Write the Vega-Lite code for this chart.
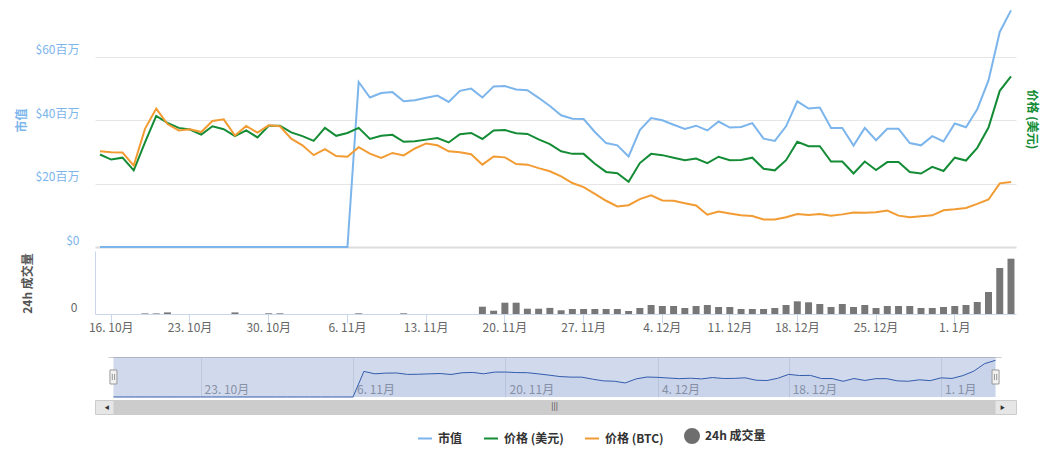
{
  "$schema": "https://vega.github.io/schema/vega-lite/v6.json",
  "padding": {"left": 15, "top": 5, "right": 5, "bottom": 5},
  "spacing": 0,
  "datasets": {
    "coin": [
      {"date": "2017-10-15", "cap": 0, "usd": 29.2, "btc": 30.2, "vol": 0},
      {"date": "2017-10-16", "cap": 0, "usd": 27.6, "btc": 29.9, "vol": 0},
      {"date": "2017-10-17", "cap": 0, "usd": 28.2, "btc": 29.8, "vol": 0},
      {"date": "2017-10-18", "cap": 0, "usd": 24.2, "btc": 25.7, "vol": 0},
      {"date": "2017-10-19", "cap": 0, "usd": 33.0, "btc": 37.3, "vol": 0.6},
      {"date": "2017-10-20", "cap": 0, "usd": 41.4, "btc": 43.7, "vol": 0.6},
      {"date": "2017-10-21", "cap": 0, "usd": 39.2, "btc": 38.8, "vol": 1.6},
      {"date": "2017-10-22", "cap": 0, "usd": 37.6, "btc": 36.8, "vol": 0},
      {"date": "2017-10-23", "cap": 0, "usd": 37.1, "btc": 37.2, "vol": 0},
      {"date": "2017-10-24", "cap": 0, "usd": 35.5, "btc": 36.3, "vol": 0},
      {"date": "2017-10-25", "cap": 0, "usd": 38.1, "btc": 39.8, "vol": 0},
      {"date": "2017-10-26", "cap": 0, "usd": 37.2, "btc": 40.3, "vol": 0},
      {"date": "2017-10-27", "cap": 0, "usd": 35.0, "btc": 35.2, "vol": 1.6},
      {"date": "2017-10-28", "cap": 0, "usd": 36.8, "btc": 38.2, "vol": 0},
      {"date": "2017-10-29", "cap": 0, "usd": 34.6, "btc": 36.1, "vol": 0},
      {"date": "2017-10-30", "cap": 0, "usd": 38.3, "btc": 38.4, "vol": 0.7},
      {"date": "2017-10-31", "cap": 0, "usd": 38.3, "btc": 38.1, "vol": 0.7},
      {"date": "2017-11-01", "cap": 0, "usd": 36.2, "btc": 34.2, "vol": 0},
      {"date": "2017-11-02", "cap": 0, "usd": 35.0, "btc": 32.1, "vol": 0},
      {"date": "2017-11-03", "cap": 0, "usd": 33.5, "btc": 29.0, "vol": 0},
      {"date": "2017-11-04", "cap": 0, "usd": 37.6, "btc": 30.9, "vol": 0},
      {"date": "2017-11-05", "cap": 0, "usd": 35.1, "btc": 28.7, "vol": 0},
      {"date": "2017-11-06", "cap": 0, "usd": 36.0, "btc": 28.5, "vol": 0},
      {"date": "2017-11-07", "cap": 52.1, "usd": 37.6, "btc": 31.5, "vol": 0.7},
      {"date": "2017-11-08", "cap": 47.2, "usd": 34.1, "btc": 29.5, "vol": 0},
      {"date": "2017-11-09", "cap": 48.6, "usd": 35.1, "btc": 28.1, "vol": 0},
      {"date": "2017-11-10", "cap": 48.9, "usd": 35.4, "btc": 29.7, "vol": 0},
      {"date": "2017-11-11", "cap": 46.0, "usd": 33.2, "btc": 28.9, "vol": 0.7},
      {"date": "2017-11-12", "cap": 46.3, "usd": 33.4, "btc": 31.1, "vol": 0},
      {"date": "2017-11-13", "cap": 47.1, "usd": 33.9, "btc": 32.7, "vol": 0},
      {"date": "2017-11-14", "cap": 47.8, "usd": 34.4, "btc": 32.1, "vol": 0},
      {"date": "2017-11-15", "cap": 45.8, "usd": 33.0, "btc": 30.2, "vol": 0},
      {"date": "2017-11-16", "cap": 49.3, "usd": 35.6, "btc": 29.9, "vol": 0},
      {"date": "2017-11-17", "cap": 50.0, "usd": 36.0, "btc": 29.3, "vol": 0},
      {"date": "2017-11-18", "cap": 47.2, "usd": 34.1, "btc": 26.0, "vol": 7.3},
      {"date": "2017-11-19", "cap": 50.7, "usd": 36.8, "btc": 28.6, "vol": 3.3},
      {"date": "2017-11-20", "cap": 50.8, "usd": 36.9, "btc": 28.3, "vol": 11.3},
      {"date": "2017-11-21", "cap": 49.7, "usd": 35.9, "btc": 26.2, "vol": 11.3},
      {"date": "2017-11-22", "cap": 49.5, "usd": 35.7, "btc": 26.0, "vol": 5.3},
      {"date": "2017-11-23", "cap": 47.1, "usd": 34.0, "btc": 24.9, "vol": 5.3},
      {"date": "2017-11-24", "cap": 44.5, "usd": 32.5, "btc": 23.9, "vol": 6.1},
      {"date": "2017-11-25", "cap": 41.6, "usd": 30.2, "btc": 22.3, "vol": 3.7},
      {"date": "2017-11-26", "cap": 40.5, "usd": 29.4, "btc": 20.2, "vol": 5},
      {"date": "2017-11-27", "cap": 40.4, "usd": 29.4, "btc": 18.9, "vol": 5},
      {"date": "2017-11-28", "cap": 36.3, "usd": 26.3, "btc": 16.8, "vol": 5},
      {"date": "2017-11-29", "cap": 32.8, "usd": 23.7, "btc": 14.6, "vol": 5},
      {"date": "2017-11-30", "cap": 32.1, "usd": 23.3, "btc": 12.8, "vol": 5},
      {"date": "2017-12-01", "cap": 28.6, "usd": 20.6, "btc": 13.2, "vol": 3},
      {"date": "2017-12-02", "cap": 36.9, "usd": 26.5, "btc": 15.1, "vol": 6},
      {"date": "2017-12-03", "cap": 40.7, "usd": 29.4, "btc": 16.3, "vol": 9},
      {"date": "2017-12-04", "cap": 40.0, "usd": 29.0, "btc": 14.7, "vol": 8},
      {"date": "2017-12-05", "cap": 38.6, "usd": 28.2, "btc": 14.6, "vol": 8},
      {"date": "2017-12-06", "cap": 37.3, "usd": 27.4, "btc": 13.8, "vol": 6},
      {"date": "2017-12-07", "cap": 38.3, "usd": 27.9, "btc": 13.1, "vol": 8},
      {"date": "2017-12-09", "cap": 36.8, "usd": 26.5, "btc": 10.2, "vol": 9},
      {"date": "2017-12-10", "cap": 39.6, "usd": 28.5, "btc": 11.2, "vol": 7},
      {"date": "2017-12-11", "cap": 37.7, "usd": 27.4, "btc": 10.6, "vol": 7},
      {"date": "2017-12-12", "cap": 37.9, "usd": 27.5, "btc": 10.0, "vol": 5},
      {"date": "2017-12-13", "cap": 39.1, "usd": 28.2, "btc": 9.8, "vol": 5},
      {"date": "2017-12-15", "cap": 34.2, "usd": 24.7, "btc": 8.7, "vol": 5},
      {"date": "2017-12-16", "cap": 33.5, "usd": 24.2, "btc": 8.7, "vol": 6},
      {"date": "2017-12-17", "cap": 38.1, "usd": 27.4, "btc": 9.4, "vol": 9},
      {"date": "2017-12-18", "cap": 46.0, "usd": 33.2, "btc": 10.4, "vol": 12.7},
      {"date": "2017-12-19", "cap": 43.7, "usd": 31.8, "btc": 10.1, "vol": 11.7},
      {"date": "2017-12-20", "cap": 44.0, "usd": 31.8, "btc": 10.4, "vol": 10},
      {"date": "2017-12-21", "cap": 37.6, "usd": 27.0, "btc": 9.9, "vol": 7},
      {"date": "2017-12-22", "cap": 37.6, "usd": 27.0, "btc": 10.3, "vol": 10},
      {"date": "2017-12-23", "cap": 32.0, "usd": 23.2, "btc": 10.9, "vol": 7},
      {"date": "2017-12-24", "cap": 37.6, "usd": 27.0, "btc": 10.8, "vol": 9},
      {"date": "2017-12-25", "cap": 33.7, "usd": 24.3, "btc": 11.0, "vol": 6},
      {"date": "2017-12-26", "cap": 37.3, "usd": 26.8, "btc": 11.5, "vol": 8},
      {"date": "2017-12-27", "cap": 37.3, "usd": 26.8, "btc": 9.9, "vol": 8},
      {"date": "2017-12-28", "cap": 32.8, "usd": 23.7, "btc": 9.4, "vol": 8},
      {"date": "2017-12-29", "cap": 32.1, "usd": 23.2, "btc": 9.7, "vol": 6},
      {"date": "2017-12-30", "cap": 35.0, "usd": 25.3, "btc": 10.0, "vol": 6},
      {"date": "2017-12-31", "cap": 33.3, "usd": 24.0, "btc": 11.6, "vol": 7},
      {"date": "2018-01-01", "cap": 39.0, "usd": 28.2, "btc": 11.9, "vol": 8},
      {"date": "2018-01-02", "cap": 37.8, "usd": 27.3, "btc": 12.3, "vol": 9},
      {"date": "2018-01-03", "cap": 43.5, "usd": 31.3, "btc": 13.6, "vol": 12},
      {"date": "2018-01-04", "cap": 52.6, "usd": 37.7, "btc": 15.0, "vol": 22},
      {"date": "2018-01-05", "cap": 67.9, "usd": 49.3, "btc": 20.1, "vol": 46},
      {"date": "2018-01-06", "cap": 74.7, "usd": 53.9, "btc": 20.5, "vol": 55.3}
    ],
    "legend": [
      {"series": "市值"},
      {"series": "价格 (美元)"},
      {"series": "价格 (BTC)"},
      {"series": "24h 成交量"}
    ]
  },
  "vconcat": [
    {
      "width": 921,
      "height": 242,
      "data": {"name": "coin"},
      "encoding": {
        "x": {
          "field": "date", "type": "ordinal",
          "scale": {"type": "point", "padding": 0.4446},
          "axis": null
        }
      },
      "layer": [
        {
          "mark": {"type": "line", "color": "#7cb5ec", "strokeWidth": 2},
          "encoding": {
            "y": {
              "field": "cap", "type": "quantitative",
              "scale": {"domain": [0, 76.4], "nice": false},
              "axis": {
                "orient": "left", "values": [0, 20, 40, 60],
                "labelExpr": "datum.value == 0 ? '$0' : '$' + datum.value + '百万'",
                "labelColor": "#7cb5ec", "labelFontSize": 12, "labelPadding": 16,
                "labelBaseline": "bottom", "labelOffset": 0,
                "ticks": false, "domain": false, "grid": true,
                "gridColor": {"condition": {"test": "datum.value == 0", "value": "#dcdcdc"}, "value": "#e6e6e6"},
                "gridWidth": {"condition": {"test": "datum.value == 0", "value": 2}, "value": 1},
                "title": "市值", "titleColor": "#7cb5ec", "titleFontSize": 12, "titleFontWeight": "bold",
                "titleAngle": 270, "titleX": -74, "titleY": 115, "titleAlign": "center", "titleBaseline": "middle"
              }
            }
          }
        },
        {
          "mark": {"type": "line", "color": "#138c35", "strokeWidth": 2},
          "encoding": {
            "y": {
              "field": "usd", "type": "quantitative",
              "scale": {"domain": [0, 76.4], "nice": false},
              "axis": {
                "orient": "right", "labels": false, "ticks": false, "domain": false, "grid": false,
                "title": "价格 (美元)", "titleColor": "#138c35", "titleFontSize": 12, "titleFontWeight": "bold",
                "titleAngle": 90, "titleX": 15, "titleY": 114, "titleAlign": "center", "titleBaseline": "middle"
              }
            }
          }
        },
        {
          "mark": {"type": "line", "color": "#f29b32", "strokeWidth": 2},
          "encoding": {
            "y": {"field": "btc", "type": "quantitative", "scale": {"domain": [0, 76.4], "nice": false}, "axis": null}
          }
        }
      ],
      "resolve": {"scale": {"y": "independent"}}
    },
    {
      "width": 921,
      "height": 63,
      "data": {"name": "coin"},
      "mark": {"type": "bar", "color": "#777777"},
      "encoding": {
        "x": {
          "field": "date", "type": "ordinal",
          "scale": {"type": "band", "paddingInner": 0.38, "paddingOuter": 0.135},
          "axis": {
            "values": ["2017-10-16", "2017-10-23", "2017-10-30", "2017-11-06", "2017-11-13", "2017-11-20", "2017-11-27", "2017-12-04", "2017-12-11", "2017-12-18", "2017-12-25", "2018-01-01"],
            "labelExpr": "utcFormat(toDate(datum.value), '%-d. %-m月')",
            "labelAngle": 0, "labelOverlap": false, "labelColor": "#666666", "labelFontSize": 12,
            "labelBaseline": "middle", "labelPadding": 4,
            "ticks": true, "tickSize": 9, "tickColor": "#ccd6eb", "domainColor": "#ccd6eb", "grid": false,
            "title": "日期", "titleOpacity": 0, "titleFontSize": 14, "titlePadding": 10
          }
        },
        "y": {
          "field": "vol", "type": "quantitative",
          "scale": {"domain": [0, 63], "nice": false},
          "axis": {
            "values": [0], "labelColor": "#666666", "labelFontSize": 12, "labelPadding": 18,
            "labelBaseline": "bottom", "labelOffset": 0,
            "ticks": false, "domain": true, "domainColor": "#ccd6eb", "grid": false,
            "title": "24h 成交量", "titleColor": "#555555", "titleFontSize": 12, "titleFontWeight": "bold",
            "titleAngle": 270, "titleX": -68, "titleY": 32, "titleAlign": "center", "titleBaseline": "middle"
          }
        }
      }
    },
    {
      "width": 921,
      "height": 40,
      "data": {"name": "coin"},
      "encoding": {
        "x": {
          "field": "date", "type": "ordinal",
          "scale": {"type": "point", "range": [13, 906]},
          "axis": {
            "orient": "top",
            "values": ["2017-10-23", "2017-11-06", "2017-11-20", "2017-12-04", "2017-12-18", "2018-01-01"],
            "labelExpr": "utcFormat(toDate(datum.value), '%-d. %-m月')",
            "labelAngle": 0, "labelOverlap": false, "labelAlign": "left", "labelBaseline": "middle",
            "labelOffset": 3.5, "labelPadding": -32, "labelColor": "#999999", "labelFontSize": 12,
            "ticks": false, "tickSize": 0, "domain": true, "domainColor": "#cccccc",
            "grid": true, "gridColor": "#e6e6e6", "title": null
          }
        }
      },
      "layer": [
        {
          "mark": {"type": "area", "color": "#6685c2", "opacity": 0.3},
          "encoding": {
            "y": {"datum": 81.4, "type": "quantitative", "scale": {"domain": [0, 81.4], "nice": false}, "axis": null},
            "y2": {"datum": 0}
          }
        },
        {
          "mark": {"type": "area", "color": "#335cad", "opacity": 0.05},
          "encoding": {"y": {"field": "cap", "type": "quantitative", "axis": null}}
        },
        {
          "mark": {"type": "line", "color": "#335cad", "strokeWidth": 1},
          "encoding": {"y": {"field": "cap", "type": "quantitative", "axis": null}}
        },
        {
          "transform": [{"filter": "datum.date == '2017-10-15' || datum.date == '2018-01-06'"}],
          "mark": {
            "type": "point", "shape": "M-0.5,-1H0.5V1H-0.5ZM-0.16,-0.44V0.44M0.16,-0.44V0.44",
            "size": 196, "filled": true, "fill": "#f2f2f2", "stroke": "#999999", "strokeWidth": 1, "opacity": 1
          },
          "encoding": {"y": {"datum": 40.7, "type": "quantitative", "axis": null}}
        }
      ]
    },
    {
      "width": 921,
      "height": 14,
      "view": {"fill": "#e6e6e6", "stroke": "#cccccc"},
      "data": {"name": "coin"},
      "encoding": {
        "x": {"field": "date", "type": "ordinal", "scale": {"type": "point", "range": [13, 906]}, "axis": null}
      },
      "layer": [
        {
          "mark": {"type": "area", "color": "#cccccc"},
          "encoding": {
            "y": {"datum": 1, "type": "quantitative", "scale": {"domain": [0, 1], "nice": false}, "axis": null},
            "y2": {"datum": 0}
          }
        },
        {
          "transform": [{"filter": "datum.date == '2017-10-15'"}],
          "mark": {"type": "text", "text": "◀", "fontSize": 5, "dx": -6.5, "color": "#333333"}
        },
        {
          "transform": [{"filter": "datum.date == '2018-01-06'"}],
          "mark": {"type": "text", "text": "▶", "fontSize": 5, "dx": 7, "color": "#333333"}
        },
        {
          "transform": [{"filter": "datum.date == '2017-11-24'"}],
          "mark": {"type": "text", "text": "|||", "fontSize": 8, "dx": 5.5, "color": "#333333"}
        },
        {
          "data": {"name": "legend"},
          "transform": [{"filter": "false"}],
          "mark": {"type": "point", "filled": false, "opacity": 1},
          "encoding": {
            "stroke": {
              "field": "series", "type": "nominal",
              "scale": {"domain": ["市值", "价格 (美元)", "价格 (BTC)", "24h 成交量"], "range": ["#7cb5ec", "#138c35", "#f29b32", "#6e6e6e"]},
              "legend": {"title": null, "orient": "none", "legendX": 322, "legendY": 28, "direction": "horizontal", "padding": 0, "labelFontSize": 12, "labelFontWeight": "bold", "labelColor": "#333333", "symbolStrokeWidth": 2, "symbolOpacity": 1, "labelOffset": 5, "columnPadding": 17}
            },
            "fill": {
              "field": "series", "type": "nominal",
              "scale": {"domain": ["市值", "价格 (美元)", "价格 (BTC)", "24h 成交量"], "range": ["#7cb5ec", "#138c35", "#f29b32", "#6e6e6e"]},
              "legend": {"title": null, "orient": "none", "legendX": 322, "legendY": 28, "direction": "horizontal", "padding": 0, "labelFontSize": 12, "labelFontWeight": "bold", "labelColor": "#333333", "symbolStrokeWidth": 2, "symbolOpacity": 1, "labelOffset": 5, "columnPadding": 17}
            },
            "shape": {
              "field": "series", "type": "nominal",
              "scale": {"domain": ["市值", "价格 (美元)", "价格 (BTC)", "24h 成交量"], "range": ["stroke", "stroke", "stroke", "circle"]},
              "legend": {"title": null, "orient": "none", "legendX": 322, "legendY": 28, "direction": "horizontal", "padding": 0, "labelFontSize": 12, "labelFontWeight": "bold", "labelColor": "#333333", "symbolStrokeWidth": 2, "symbolOpacity": 1, "labelOffset": 5, "columnPadding": 17}
            },
            "size": {
              "field": "series", "type": "nominal",
              "scale": {"domain": ["市值", "价格 (美元)", "价格 (BTC)", "24h 成交量"], "range": [196, 196, 196, 64]},
              "legend": {"title": null, "orient": "none", "legendX": 322, "legendY": 28, "direction": "horizontal", "padding": 0, "labelFontSize": 12, "labelFontWeight": "bold", "labelColor": "#333333", "symbolStrokeWidth": 2, "symbolOpacity": 1, "labelOffset": 5, "columnPadding": 17}
            }
          }
        }
      ]
    }
  ],
  "resolve": {
    "scale": {"stroke": "independent", "fill": "independent", "shape": "independent", "size": "independent"},
    "legend": {"stroke": "independent", "fill": "independent", "shape": "independent", "size": "independent"}
  },
  "config": {
    "font": "Noto Sans CJK SC",
    "view": {"stroke": null},
    "axis": {"labelFont": "Noto Sans CJK SC", "titleFont": "Noto Sans CJK SC"},
    "legend": {"labelFont": "Noto Sans CJK SC"}
  }
}
